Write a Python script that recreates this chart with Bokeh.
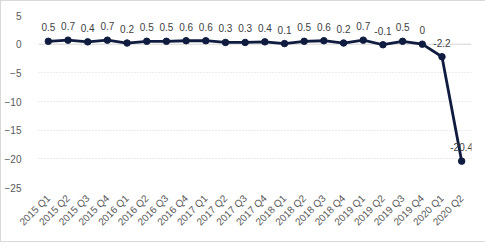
import math
from bokeh.plotting import figure
from bokeh.models import FactorRange, Range1d, FixedTicker, Span, ColumnDataSource
from bokeh.core.properties import value
from bokeh.embed import file_html
from bokeh.resources import INLINE

quarters = ["2015 Q1", "2015 Q2", "2015 Q3", "2015 Q4",
            "2016 Q1", "2016 Q2", "2016 Q3", "2016 Q4",
            "2017 Q1", "2017 Q2", "2017 Q3", "2017 Q4",
            "2018 Q1", "2018 Q2", "2018 Q3", "2018 Q4",
            "2019 Q1", "2019 Q2", "2019 Q3", "2019 Q4",
            "2020 Q1", "2020 Q2"]
growth = [0.5, 0.7, 0.4, 0.7,
          0.2, 0.5, 0.5, 0.6,
          0.6, 0.3, 0.3, 0.4,
          0.1, 0.5, 0.6, 0.2,
          0.7, -0.1, 0.5, 0,
          -2.2, -20.4]
y_ticks = [-25, -20, -15, -10, -5, 0, 5]

labels = [f"{v:g}" for v in growth]
src = ColumnDataSource(dict(x=quarters, y=growth, label=labels))

FONT = "Liberation Sans"
GRAY = "#595959"
NAVY = "#0f1c3f"

p = figure(x_range=FactorRange(*quarters), y_range=Range1d(-25, 5),
           frame_width=433, frame_height=172,
           min_border_left=32, min_border_right=16, min_border_top=14, min_border_bottom=54,
           output_backend="svg", toolbar_location=None,
           background_fill_color="white", border_fill_color="white")
p.styles = {"border": "1px solid #d9d9d9", "box-sizing": "border-box"}
p.outline_line_color = None

p.xgrid.grid_line_color = None
p.ygrid.grid_line_color = "#d9d9d9"
p.ygrid.grid_line_dash = "1 2"
p.ygrid.grid_line_width = 1

zero = Span(location=0, dimension="width", line_color="#d9d9d9", line_width=1)
zero.level = "underlay"
p.add_layout(zero)

p.yaxis.ticker = FixedTicker(ticks=y_ticks)
p.yaxis.axis_line_color = None
p.yaxis.major_tick_line_color = None
p.yaxis.minor_tick_line_color = None
p.yaxis.major_label_standoff = 11
p.yaxis.major_label_text_font = FONT
p.yaxis.major_label_text_font_size = "10px"
p.yaxis.major_label_text_color = GRAY

p.xaxis.axis_line_color = None
p.xaxis.major_tick_line_color = None
p.xaxis.major_label_orientation = math.pi / 4
p.xaxis.major_label_standoff = 3
p.xaxis.major_label_text_font = FONT
p.xaxis.major_label_text_font_size = "10px"
p.xaxis.major_label_text_color = GRAY

p.line("x", "y", source=src, line_color=NAVY, line_width=2.8)
p.scatter("x", "y", source=src, size=6.5, fill_color=NAVY, line_color=NAVY)
p.text("x", "y", text="label", source=src, text_align="center", text_baseline="middle",
       y_offset=-14, text_font=value(FONT), text_font_size="10px", text_color="#404040")

open("out.html", "w").write(file_html(p, INLINE))
